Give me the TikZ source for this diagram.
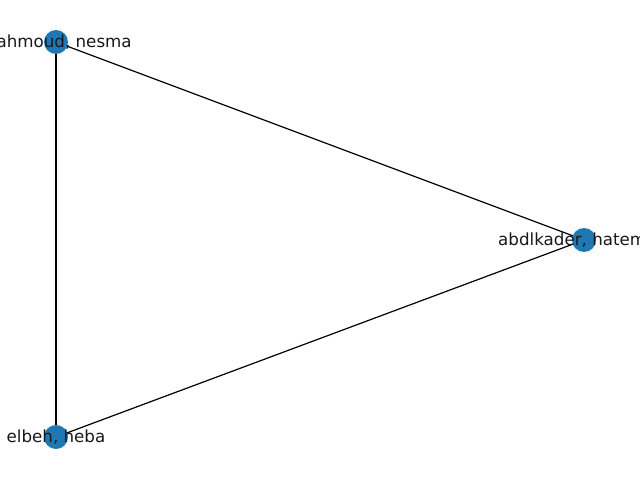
\documentclass[tikz,border=0pt]{standalone}
\usepackage{fontspec}
\setmainfont{DejaVu Sans}
\definecolor{nxblue}{HTML}{1F77B4}
\begin{document}
\begin{tikzpicture}[x=1pt,y=1pt,
  vertex/.style={circle,fill=nxblue,minimum size=24pt,inner sep=0pt},
  lbl/.style={font=\fontsize{16.7}{20}\selectfont,inner sep=0pt,text=black!90},
  edge/.style={black,line width=1.2pt}]
\useasboundingbox (0,0) rectangle (640,480);
\clip (0,0) rectangle (640,480);
\fill[white] (0,0) rectangle (640,480);
\coordinate (m) at (56,438);
\coordinate (e) at (56,43);
\coordinate (h) at (584,240);
\draw[edge] (m) -- (e);
\draw[edge] (m) -- (h);
\draw[edge] (e) -- (h);
\node[vertex] (mv) at (m) {};
\node[vertex] (ev) at (e) {};
\node[vertex] (hv) at (h) {};
\node[lbl] (ml) at (m) {mahmoud, nesma};
\node[lbl] (el) at (e) {elbeh, heba};
\node[lbl,anchor=west] (hl) at ([xshift=-86pt]h) {abdlkader, hatem};
\end{tikzpicture}
\end{document}
